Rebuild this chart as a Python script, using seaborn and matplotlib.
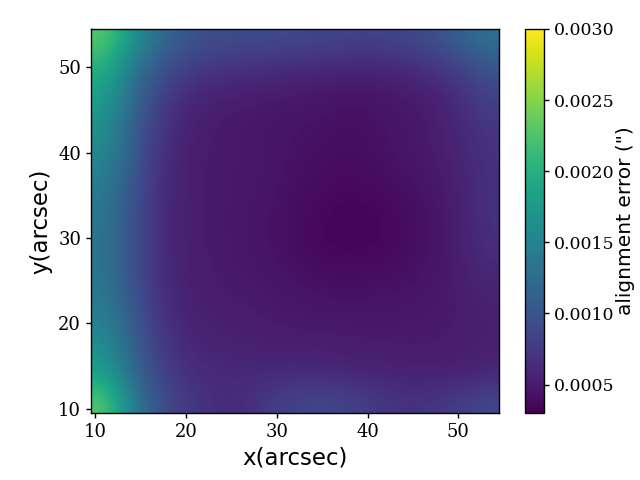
import numpy as np
import matplotlib
matplotlib.use("Agg")
import matplotlib.pyplot as plt
import seaborn as sns

# extent of the map (arcsec)
x_range = [9.5, 54.5]
y_range = [9.5, 54.5]

# alignment error in units of 1e-4 arcsec; one row per y (top to bottom, y = 53 ... 11, step 3),
# columns x = 11 ... 53 (step 3)
row_y53 = [23.0, 17.0, 12.5, 10.0, 9.3, 9.0, 9.0, 8.8, 8.5, 8.3, 8.3, 8.5, 9.5, 11.0, 13.0]
row_y50 = [20.0, 14.0, 10.0, 8.0, 7.2, 6.8, 6.5, 6.2, 6.0, 5.8, 5.8, 6.0, 7.0, 8.0, 10.0]
row_y47 = [18.5, 12.5, 8.5, 6.2, 5.6, 5.3, 5.1, 4.9, 4.7, 4.5, 4.6, 5.0, 5.5, 6.5, 8.5]
row_y44 = [17.0, 11.5, 7.5, 5.6, 5.0, 4.8, 4.6, 4.5, 4.3, 4.1, 4.3, 4.6, 5.0, 6.0, 7.5]
row_y41 = [16.0, 11.0, 7.0, 5.3, 4.9, 4.8, 4.6, 4.3, 4.1, 3.9, 4.2, 4.6, 5.0, 5.8, 7.0]
row_y38 = [15.0, 10.5, 6.7, 5.2, 4.9, 4.8, 4.6, 4.2, 3.9, 3.8, 4.0, 4.4, 4.8, 5.5, 6.8]
row_y35 = [14.0, 10.0, 6.5, 5.2, 4.9, 4.7, 4.5, 4.0, 3.7, 3.5, 3.7, 4.0, 4.5, 5.3, 6.8]
row_y32 = [13.5, 9.8, 6.5, 5.2, 4.9, 4.7, 4.4, 3.9, 3.5, 3.3, 3.4, 3.8, 4.4, 5.2, 6.8]
row_y29 = [13.5, 9.8, 6.5, 5.2, 4.9, 4.7, 4.4, 3.9, 3.5, 3.4, 3.5, 3.8, 4.4, 5.2, 6.5]
row_y26 = [13.5, 9.8, 6.5, 5.3, 5.0, 4.8, 4.6, 4.2, 3.9, 3.8, 3.9, 4.1, 4.5, 5.1, 6.0]
row_y23 = [14.0, 10.3, 6.8, 5.4, 5.1, 5.0, 4.8, 4.6, 4.4, 4.3, 4.4, 4.5, 4.7, 5.0, 5.6]
row_y20 = [15.0, 11.0, 7.2, 5.7, 5.3, 5.2, 5.0, 4.9, 4.8, 4.8, 4.8, 4.8, 4.9, 5.0, 5.3]
row_y17 = [16.5, 11.5, 7.8, 6.1, 5.7, 5.5, 5.4, 5.4, 5.3, 5.2, 5.1, 5.0, 5.0, 5.1, 5.4]
row_y14 = [18.5, 12.5, 8.5, 6.7, 6.2, 6.1, 6.2, 6.3, 6.2, 6.0, 5.8, 5.6, 5.5, 5.6, 6.0]
row_y11 = [23.0, 14.5, 9.5, 7.5, 6.5, 6.3, 7.5, 8.5, 8.8, 8.3, 7.5, 6.8, 7.2, 7.8, 8.8]

vmin, vmax = 0.0003, 0.0030
cbar_ticks = [0.0005, 0.0010, 0.0015, 0.0020, 0.0025, 0.0030]
x_ticks = [10, 20, 30, 40, 50]
y_ticks = [10, 20, 30, 40, 50]

err = np.array([row_y53, row_y50, row_y47, row_y44, row_y41, row_y38, row_y35,
                row_y32, row_y29, row_y26, row_y23, row_y20, row_y17, row_y14,
                row_y11]) * 1e-4

sns.set_style("ticks")
plt.rcParams["font.family"] = ["DejaVu Sans"]
plt.rcParams["text.color"] = "black"
plt.rcParams["axes.labelcolor"] = "black"
plt.rcParams["xtick.color"] = "black"
plt.rcParams["ytick.color"] = "black"
plt.rcParams["axes.edgecolor"] = "black"

fig = plt.figure(figsize=(6.4, 4.8), dpi=100)
ax = fig.add_axes([0.142, 0.1396, 0.638, 0.800])
cax = fig.add_axes([0.8203, 0.1396, 0.0297, 0.800])

cmap = sns.color_palette("viridis", as_cmap=True)
im = ax.imshow(err, cmap=cmap, vmin=vmin, vmax=vmax, origin="upper",
               extent=[x_range[0], x_range[1], y_range[0], y_range[1]],
               aspect="auto", interpolation="bicubic")
ax.set_xticks(x_ticks)
ax.set_yticks(y_ticks)
ax.tick_params(direction="out", length=3.5, width=1, colors="black",
               labelsize=13, labelfontfamily="DejaVu Serif")
for s in ax.spines.values():
    s.set_visible(True)
    s.set_linewidth(1)
    s.set_color("black")
ax.set_xlabel("x(arcsec)", fontsize=16.5, color="black")
ax.set_ylabel("y(arcsec)", fontsize=16.5, color="black")

cb = fig.colorbar(im, cax=cax)
cb.set_ticks(cbar_ticks)
cb.ax.set_yticklabels([f"{t:.4f}" for t in cbar_ticks])
cb.ax.tick_params(length=3.5, width=1, colors="black", labelsize=12.5,
                  labelfontfamily="DejaVu Serif")
cb.set_label('alignment error (")', fontsize=14.5, labelpad=1, color="black")
cb.outline.set_linewidth(1)
cb.outline.set_edgecolor("black")

fig.savefig("out.png", dpi=100)
